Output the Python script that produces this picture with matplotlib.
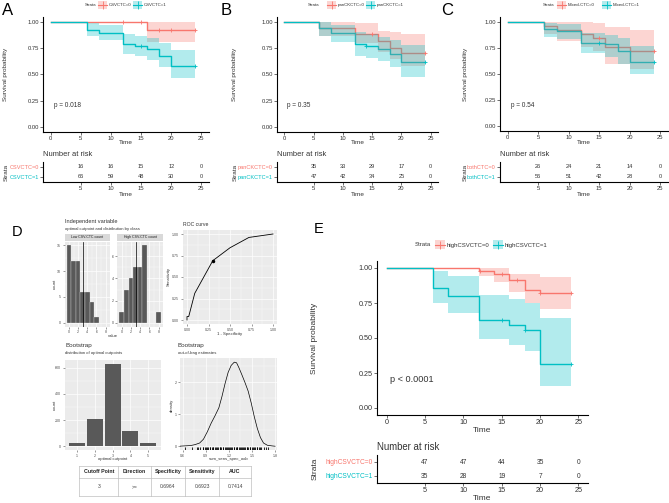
import numpy as np
import matplotlib
matplotlib.use("Agg")
import matplotlib.pyplot as plt
from matplotlib.patches import Rectangle
from matplotlib.lines import Line2D

plt.rcParams['font.family'] = ['Liberation Sans', 'DejaVu Sans']

W, H = 669, 503
RED = '#F8766D'
TEAL = '#00BFC4'
TXT = '#333333'

# ---------------- data ----------------
risk_times = [5, 10, 15, 20, 25]

# A  CSVCTC
a0_t = [0, 16, 24]
a0_s = [1, 0.925, 0.925]
a0_lo = [1, 0.81, 0.81]
a0_hi = [1, 1.0, 1.0]
a0_cens = [12, 15, 18, 20, 24]
a1_t = [0, 6, 8, 12, 14, 16, 18, 20, 24]
a1_s = [1, 0.927, 0.898, 0.79, 0.775, 0.74, 0.676, 0.584, 0.584]
a1_lo = [1, 0.87, 0.83, 0.70, 0.68, 0.64, 0.57, 0.47, 0.47]
a1_hi = [1, 0.99, 0.97, 0.89, 0.87, 0.85, 0.80, 0.73, 0.73]
a1_cens = [15, 24]
a_risk0 = [16, 16, 15, 12, 0]
a_risk1 = [66, 59, 48, 30, 0]

# B  panCKCTC
b0_t = [0, 6, 12, 16, 18, 20, 24]
b0_s = [1, 0.943, 0.886, 0.82, 0.757, 0.71, 0.71]
b0_lo = [1, 0.87, 0.80, 0.72, 0.65, 0.58, 0.58]
b0_hi = [1, 1.0, 0.99, 0.92, 0.91, 0.89, 0.89]
b0_cens = [15, 24]
b1_t = [0, 6, 8, 12, 14, 16, 18, 20, 24]
b1_s = [1, 0.94, 0.90, 0.79, 0.77, 0.74, 0.695, 0.615, 0.615]
b1_lo = [1, 0.87, 0.81, 0.68, 0.66, 0.63, 0.57, 0.48, 0.48]
b1_hi = [1, 1.0, 0.97, 0.91, 0.89, 0.86, 0.83, 0.78, 0.78]
b1_cens = [14, 24]
b_risk0 = [35, 33, 29, 17, 0]
b_risk1 = [47, 42, 34, 25, 0]

# C  Mixed-CTC / bothCTC
c0_t = [0, 6, 8, 12, 14, 16, 20, 24]
c0_s = [1, 0.962, 0.923, 0.885, 0.846, 0.76, 0.72, 0.72]
c0_lo = [1, 0.89, 0.82, 0.76, 0.72, 0.60, 0.55, 0.55]
c0_hi = [1, 1.0, 1.0, 1.0, 0.99, 0.95, 0.92, 0.92]
c0_cens = [15, 24]
c1_t = [0, 6, 8, 12, 16, 18, 20, 24]
c1_s = [1, 0.93, 0.915, 0.80, 0.785, 0.72, 0.62, 0.62]
c1_lo = [1, 0.86, 0.84, 0.70, 0.66, 0.60, 0.50, 0.50]
c1_hi = [1, 0.99, 0.98, 0.90, 0.88, 0.85, 0.77, 0.77]
c1_cens = [15, 24]
c_risk0 = [26, 24, 21, 14, 0]
c_risk1 = [56, 51, 42, 28, 0]

# E  highCSVCTC
e0_t = [0, 12, 14, 16, 18, 20, 24]
e0_s = [1, 0.98, 0.96, 0.912, 0.845, 0.82, 0.82]
e0_lo = [1, 0.94, 0.90, 0.83, 0.75, 0.71, 0.71]
e0_hi = [1, 1.0, 1.0, 0.96, 0.96, 0.935, 0.935]
e0_cens = [12.2, 15, 17, 20, 24]
e1_t = [0, 6, 8, 12, 16, 18, 20, 24]
e1_s = [1, 0.857, 0.798, 0.63, 0.593, 0.56, 0.317, 0.317]
e1_lo = [1, 0.75, 0.68, 0.49, 0.45, 0.41, 0.155, 0.155]
e1_hi = [1, 0.98, 0.94, 0.81, 0.78, 0.75, 0.645, 0.645]
e1_cens = [15, 18, 24]
e_risk0 = [47, 47, 44, 35, 0]
e_risk1 = [35, 28, 19, 7, 0]

# D  cutpoint analysis
hist_vals = [0, 1, 2, 3, 4, 5, 6, 7, 8]
hist_low = [15, 12, 12, 6, 6, 4, 1, 0, 0]
hist_high = [1, 3, 4, 5, 5, 7, 0, 0, 1]
cutpoint = 3
roc_fpr = [0, 0.0, 0.02, 0.09, 0.30, 0.50, 0.72, 1.0]
roc_tpr = [0, 0.04, 0.04, 0.31, 0.69, 0.84, 0.96, 1.0]
roc_cut = (0.30, 0.69)
boot_cut = [1, 2, 3, 4, 5]
boot_count = [28, 205, 628, 115, 24]
dens_x = [0.55, 0.62, 0.70, 0.76, 0.82, 0.87, 0.92, 0.97, 1.02, 1.07, 1.11,
          1.15, 1.19, 1.23, 1.27, 1.30, 1.33, 1.37, 1.41, 1.45, 1.49, 1.53,
          1.57, 1.61, 1.65, 1.70, 1.76, 1.80]
dens_y = [0.0, 0.01, 0.02, 0.05, 0.10, 0.22, 0.45, 0.72, 0.95, 1.20, 1.55,
          1.95, 2.30, 2.52, 2.62, 2.60, 2.45, 2.22, 1.98, 1.72, 1.35, 0.92,
          0.55, 0.27, 0.10, 0.03, 0.01, 0.0]
rug_oob = [0.63, 0.72, 0.78, 0.80, 0.82, 0.86, 0.87, 0.89, 0.90, 0.92, 0.93,
           0.95, 0.96, 0.98, 0.99, 1.00, 1.02, 1.03, 1.05, 1.06, 1.08, 1.09,
           1.10, 1.12, 1.13, 1.15, 1.16, 1.17, 1.19, 1.20, 1.22, 1.23, 1.24,
           1.26, 1.27, 1.29, 1.30, 1.31, 1.33, 1.34, 1.36, 1.37, 1.38, 1.40,
           1.41, 1.43, 1.44, 1.45, 1.47, 1.48, 1.50, 1.51, 1.53, 1.54, 1.56,
           1.57, 1.59, 1.60, 1.62, 1.66, 1.68, 1.71]
tab_head = ['Cutoff Point', 'Direction', 'Specificity', 'Sensitivity', 'AUC']
tab_vals = ['3', '>=', '0.6964', '0.6923', '0.7414']

fig = plt.figure(figsize=(6.69, 5.03), dpi=100)


def box(l, t, r, b):
    return [l / W, 1 - b / H, (r - l) / W, (b - t) / H]


def ftext(x, y, s, **kw):
    kw.setdefault('color', TXT)
    fig.text(x / W, 1 - y / H, s, **kw)


def legend(y, sx, px_list, labels, fs, pw=9, ph=8):
    ftext(sx, y, 'Strata', fontsize=fs, va='center')
    for x, lab, col in zip(px_list, labels, (RED, TEAL)):
        fig.patches.append(Rectangle((x / W, 1 - (y + ph / 2) / H), pw / W, ph / H,
                                     transform=fig.transFigure, color=col, alpha=0.3, lw=0))
        fig.lines.append(Line2D([x / W, (x + pw) / W], [1 - y / H] * 2,
                                transform=fig.transFigure, color=col, lw=0.8))
        fig.lines.append(Line2D([(x + pw / 2) / W], [1 - y / H], transform=fig.transFigure,
                                color=col, marker='+', ms=pw * 0.6, mew=0.6, ls='none'))
        ftext(x + pw + 1.5, y, lab, fontsize=fs, va='center')


def classic(ax, fs):
    for s in ('top', 'right'):
        ax.spines[s].set_visible(False)
    for s in ('left', 'bottom'):
        ax.spines[s].set_linewidth(0.8)
    ax.tick_params(labelsize=fs, length=2, width=0.5, pad=1, colors=TXT)


def surv_panel(main, tab, curves, risks, names, pval, ylab_x, fs, offs):
    fs_tick, fs_lab, fs_nr, fs_p, fs_risk = fs
    l, t, r, b = main
    ax = fig.add_axes(box(l, t, r, b))
    for c, col in zip(curves, (RED, TEAL)):
        ax.step(c[0], c[1], where='post', color=col, lw=1.0, zorder=2)
    for c, col in zip(curves, (RED, TEAL)):
        ax.fill_between(c[0], c[2], c[3], step='post', color=col, alpha=0.3, lw=0, zorder=3)
    for c, col in zip(curves, (RED, TEAL)):
        i = np.searchsorted(c[0], c[4], side='right') - 1
        ax.plot(c[4], np.array(c[1])[i], ls='none', marker='+', ms=3, mew=0.6,
                color=col, zorder=4)
    ax.set_xlim(-1.25, 26.25)
    ax.set_ylim(-0.05, 1.05)
    ax.set_xticks([0, 5, 10, 15, 20, 25])
    ax.set_yticks([0, 0.25, 0.5, 0.75, 1.0])
    ax.set_yticklabels(['0.00', '0.25', '0.50', '0.75', '1.00'])
    classic(ax, fs_tick)
    ax.text(0.5, 0.2, pval, fontsize=fs_p, va='center', ha='left', color=TXT)
    ftext((l + r) / 2, b + offs[0], 'Time', fontsize=fs_lab, ha='center', va='center')
    ftext(ylab_x, (t + b) / 2, 'Survival probability', fontsize=fs_lab, rotation=90,
          ha='center', va='center')

    l2, t2, r2, b2 = tab
    at = fig.add_axes(box(l2, t2, r2, b2))
    for row, vals in zip((2, 1), risks):
        for x, v in zip(risk_times, vals):
            at.text(x, row, str(v), fontsize=fs_risk, ha='center', va='center', color=TXT)
    at.set_xlim(-1.25, 26.25)
    at.set_ylim(0.5, 2.5)
    at.set_xticks(risk_times)
    at.set_yticks([2, 1])
    at.set_yticklabels(names)
    classic(at, fs_tick)
    for lab, col in zip(at.get_yticklabels(), (RED, TEAL)):
        lab.set_color(col)
        lab.set_fontsize(fs_risk)
    ftext(l2, t2 - offs[2], 'Number at risk', fontsize=fs_nr, ha='left', va='center')
    ftext((l2 + r2) / 2, b2 + offs[1], 'Time', fontsize=fs_lab, ha='center', va='center')
    ftext(ylab_x, (t2 + b2) / 2, 'Strata', fontsize=fs_lab, rotation=90,
          ha='center', va='center')


small = (4.2, 4.6, 5.4, 4.7, 4.1)
surv_panel((43, 17, 209, 132), (43, 162, 209, 182),
           [(a0_t, a0_s, a0_lo, a0_hi, a0_cens), (a1_t, a1_s, a1_lo, a1_hi, a1_cens)],
           [a_risk0, a_risk1], ['CSVCTC=0', 'CSVCTC=1'], 'p = 0.018', 6, small,
           (11, 12, 7))
surv_panel((277, 17, 438, 132), (277, 162, 438, 182),
           [(b0_t, b0_s, b0_lo, b0_hi, b0_cens), (b1_t, b1_s, b1_lo, b1_hi, b1_cens)],
           [b_risk0, b_risk1], ['panCKCTC=0', 'panCKCTC=1'], 'p = 0.35', 235, small,
           (11, 12, 7))
surv_panel((500, 17, 668, 131), (500, 162, 668, 182),
           [(c0_t, c0_s, c0_lo, c0_hi, c0_cens), (c1_t, c1_s, c1_lo, c1_hi, c1_cens)],
           [c_risk0, c_risk1], ['bothCTC=0', 'bothCTC=1'], 'p = 0.54', 465, small,
           (11, 12, 7))
surv_panel((377, 261, 588, 415), (377, 455, 588, 483),
           [(e0_t, e0_s, e0_lo, e0_hi, e0_cens), (e1_t, e1_s, e1_lo, e1_hi, e1_cens)],
           [e_risk0, e_risk1], ['highCSVCTC=0', 'highCSVCTC=1'], 'p < 0.0001', 315,
           (5.2, 6.0, 6.9, 6.6, 4.8), (16, 16, 8))

legend(5, 85, [98, 133], ['CSVCTC=0', 'CSVCTC=1'], 3.2)
legend(5, 308, [327, 366], ['panCKCTC=0', 'panCKCTC=1'], 3.2)
legend(5, 543, [557, 602], ['Mixed-CTC=0', 'Mixed-CTC=1'], 3.2)
legend(245, 415, [435, 493], ['highCSVCTC=0', 'highCSVCTC=1'], 4.3, pw=10, ph=9)

for lab, x, y, fs in (('A', 2, 15, 12), ('B', 221, 15, 12), ('C', 441, 15, 12),
                      ('D', 12, 236, 10.5), ('E', 314, 233, 10.5)):
    ftext(x, y, lab, fontsize=fs, color='black', va='baseline')


# ---------------- D ----------------
def gg(bx, xlim, ylim, xmaj, ymaj, xmin, ymin, fs=2.6):
    ax = fig.add_axes(box(*bx))
    ax.set_facecolor('#EBEBEB')
    ax.set_xlim(*xlim)
    ax.set_ylim(*ylim)
    ax.set_xticks(xmaj)
    ax.set_yticks(ymaj)
    ax.set_xticks(xmin, minor=True)
    ax.set_yticks(ymin, minor=True)
    ax.grid(which='major', color='white', lw=0.5)
    ax.grid(which='minor', color='white', lw=0.25)
    ax.set_axisbelow(True)
    for s in ax.spines.values():
        s.set_visible(False)
    ax.tick_params(which='major', labelsize=fs, length=1.5, width=0.4, pad=1,
                   colors='#4D4D4D')
    ax.tick_params(which='minor', length=0)
    return ax


for bx, counts, ymaj, ymin, strip in (
        ((64.6, 241.5, 110, 326.5), hist_low, [0, 5, 10, 15], [2.5, 7.5, 12.5],
         'Low CSV-CTC count'),
        ((117.3, 241.5, 163, 326.5), hist_high, [0, 2, 4, 6], [1, 3, 5, 7],
         'High CSV-CTC count')):
    top = max(counts) * 1.05
    ax = gg(bx, (-0.95, 8.95), (-0.05 * max(counts), top), [0, 2, 4, 6, 8], ymaj,
            [1, 3, 5, 7], ymin)
    ax.bar(hist_vals, counts, width=1, color='#595959', edgecolor='#EBEBEB', lw=0.2)
    ax.axvline(cutpoint, color='black', lw=0.5)
    sb = fig.add_axes(box(bx[0], 233.5, bx[2], 241))
    sb.set_facecolor('#D9D9D9')
    sb.set_xticks([])
    sb.set_yticks([])
    for s in sb.spines.values():
        s.set_visible(False)
    sb.text(0.5, 0.5, strip, fontsize=2.5, ha='center', va='center', color='#1A1A1A',
            transform=sb.transAxes)

ftext(65, 221, 'Independent variable', fontsize=4.1, va='center')
ftext(65, 229, 'optimal cutpoint and distribution by class', fontsize=3.1, va='center')
ftext(113, 336, 'value', fontsize=3.1, ha='center', va='center')
ftext(55, 284, 'count', fontsize=3.1, rotation=90, ha='center', va='center')

ax = gg((182.7, 229.7, 277.3, 324.3), (-0.05, 1.05), (-0.05, 1.05),
        [0, 0.25, 0.5, 0.75, 1.0], [0, 0.25, 0.5, 0.75, 1.0],
        [0.125, 0.375, 0.625, 0.875], [0.125, 0.375, 0.625, 0.875])
ax.set_xticklabels(['0.00', '0.25', '0.50', '0.75', '1.00'])
ax.set_yticklabels(['0.00', '0.25', '0.50', '0.75', '1.00'])
ax.plot(roc_fpr, roc_tpr, color='black', lw=0.6)
ax.plot(*roc_cut, 'o', color='black', ms=1.5)
ftext(183, 224, 'ROC curve', fontsize=3.7, va='center')
ftext(169, 277, 'Sensitivity', fontsize=3.1, rotation=90, ha='center', va='center')
ftext(230, 334, '1 - Specificity', fontsize=3.1, ha='center', va='center')

ax = gg((64.7, 360, 160.7, 450.4), (0.3, 5.7), (-31.4, 659.4), boot_cut,
        [0, 200, 400, 600], [], [100, 300, 500])
ax.bar(boot_cut, boot_count, width=0.9, color='#595959')
ftext(65, 345, 'Bootstrap', fontsize=4.5, va='center')
ftext(65, 353, 'distribution of optimal cutpoints', fontsize=3.1, va='center')
ftext(113, 459, 'optimal cutpoint', fontsize=3.1, ha='center', va='center')
ftext(55, 405, 'count', fontsize=3.1, rotation=90, ha='center', va='center')

ax = gg((180, 358, 277, 450.4), (0.565, 1.825), (-0.13, 2.75),
        [0.6, 0.9, 1.2, 1.5, 1.8], [0, 1, 2], [0.75, 1.05, 1.35, 1.65], [0.5, 1.5, 2.5])
ax.plot(dens_x, dens_y, color='black', lw=0.5)
ax.vlines(rug_oob, 0, 0.04, transform=ax.get_xaxis_transform(), color='black', lw=0.6)
ftext(178, 345, 'Bootstrap', fontsize=4.5, va='center')
ftext(178, 353, 'out-of-bag estimates', fontsize=3.1, va='center')
ftext(229, 459, 'sum_sens_spec_oob', fontsize=3.1, ha='center', va='center')
ftext(172, 405, 'density', fontsize=3.1, rotation=90, ha='center', va='center')

# table
col_edges = [79.3, 118.3, 151, 185, 219.3, 250.7]
ty0, ty1, ty2 = 465.7, 477.7, 496
tb = fig.add_axes(box(col_edges[0], ty0, col_edges[-1], ty2))
tb.set_xlim(col_edges[0], col_edges[-1])
tb.set_ylim(ty2, ty0)
tb.axis('off')
for x in col_edges:
    tb.plot([x, x], [ty0, ty2], color='#BFBFBF', lw=0.5, clip_on=False)
for y in (ty0, ty1, ty2):
    tb.plot([col_edges[0], col_edges[-1]], [y, y], color='#BFBFBF', lw=0.5, clip_on=False)
for i, (h, v) in enumerate(zip(tab_head, tab_vals)):
    cx = (col_edges[i] + col_edges[i + 1]) / 2
    tb.text(cx, (ty0 + ty1) / 2, h, fontsize=3.8, fontweight='bold', ha='center',
            va='center', color='#222222')
    tb.text(cx, (ty1 + ty2) / 2, v, fontsize=3.6, ha='center', va='center', color='#444444')

fig.savefig('out.png', dpi=100)
